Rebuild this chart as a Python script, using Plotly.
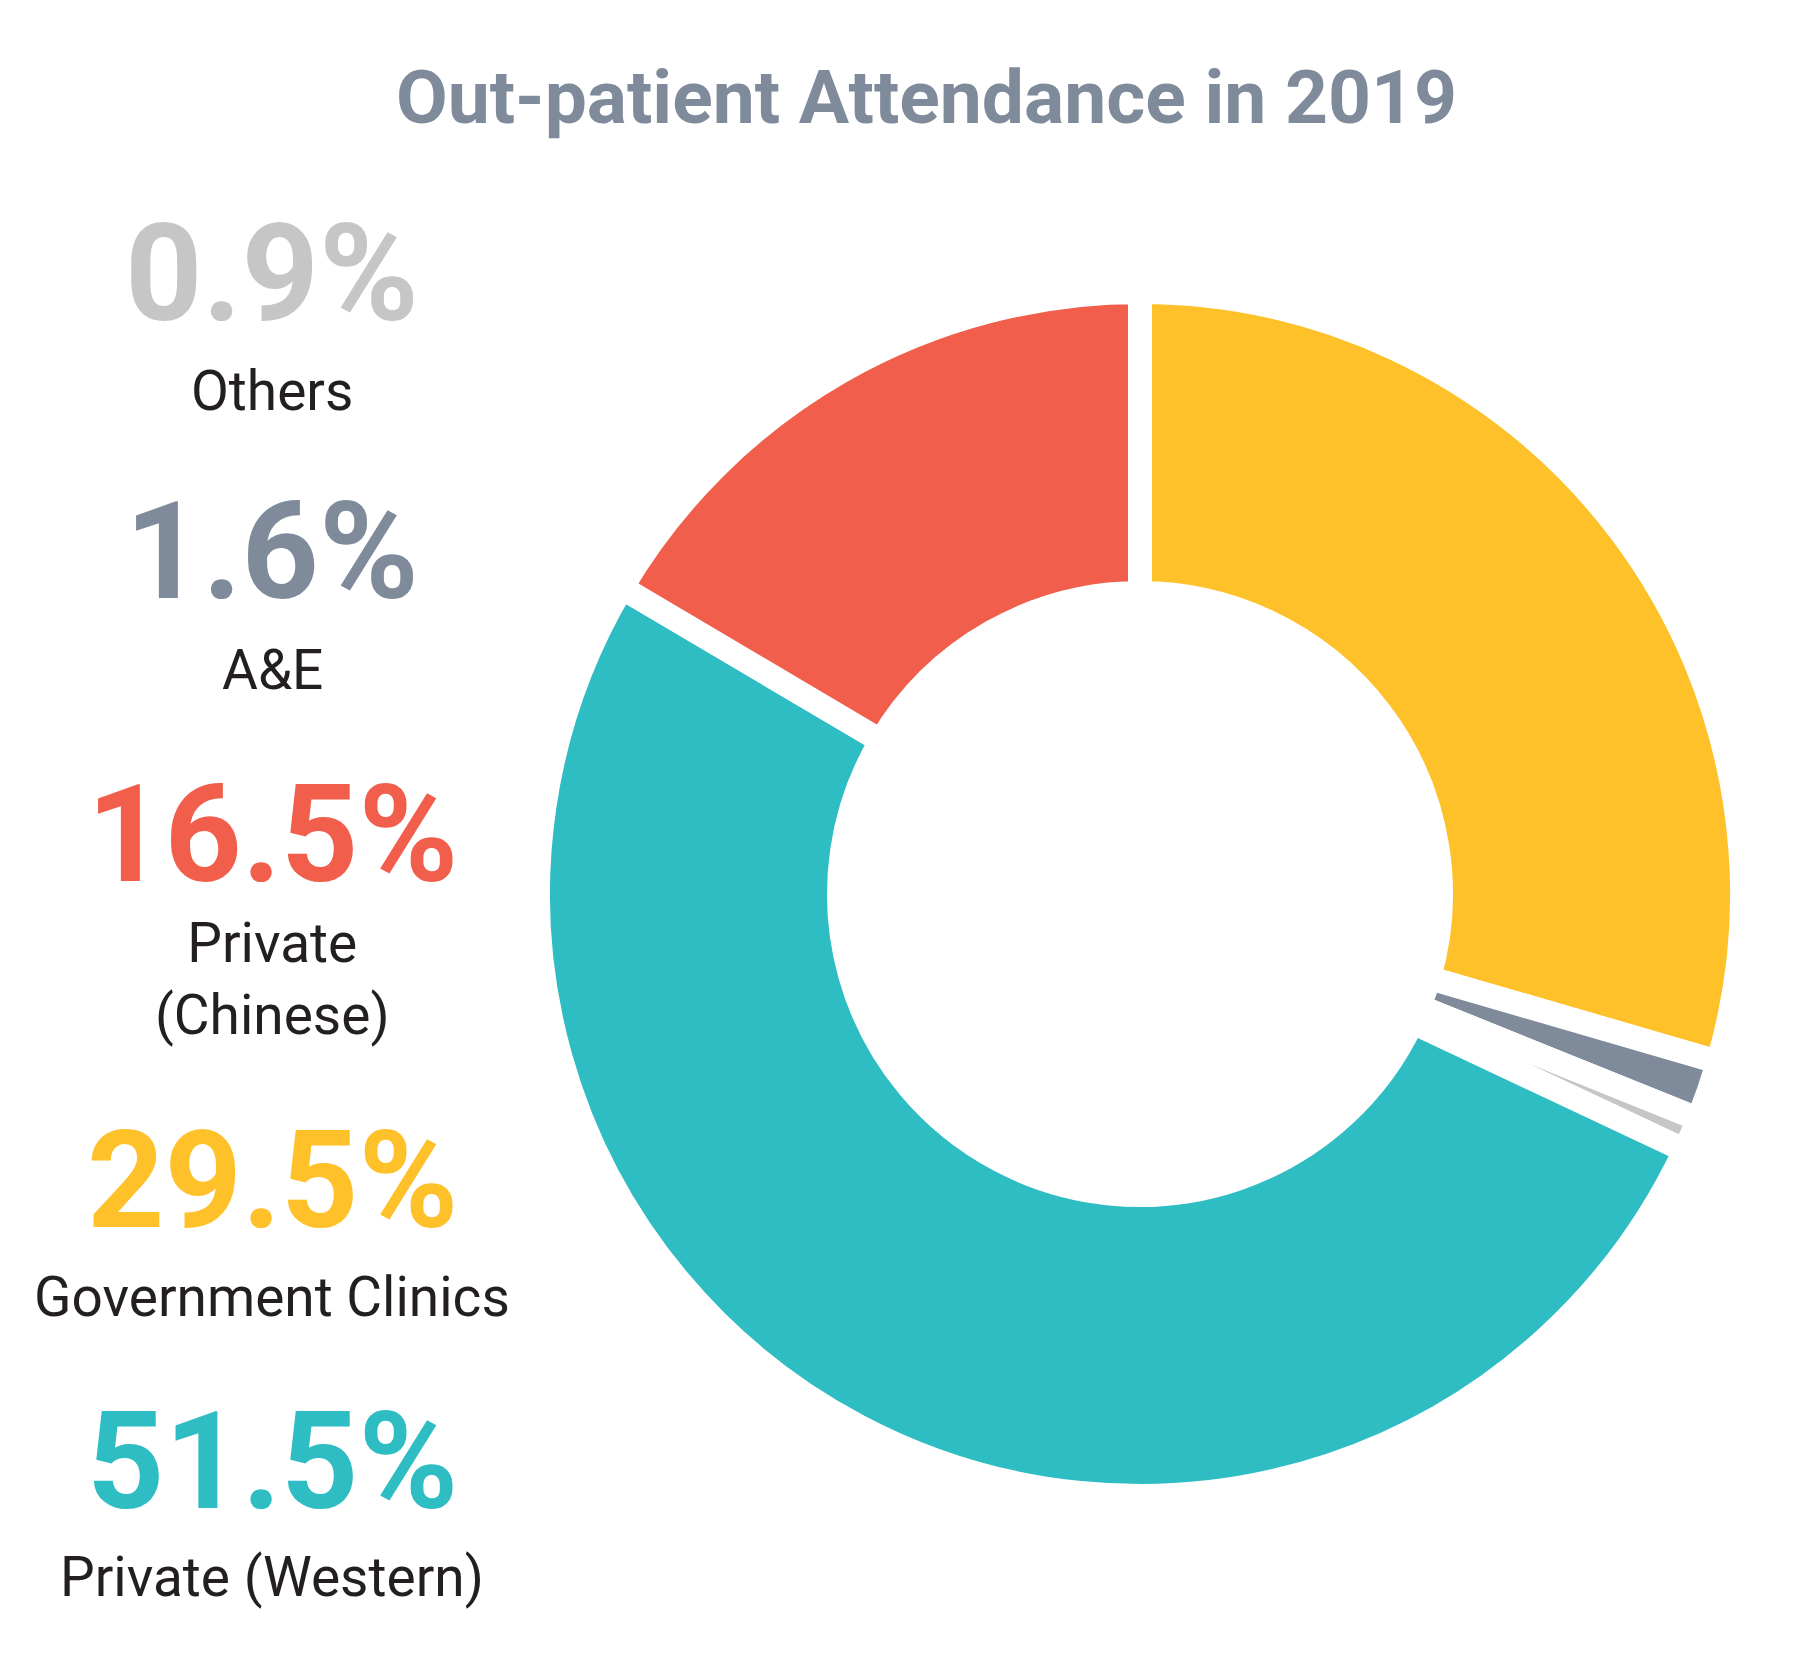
import plotly.graph_objects as go

# Data (clockwise from 12 o'clock)
categories = ["Government Clinics", "A&E", "Others", "Private (Western)", "Private (Chinese)"]
values = [29.5, 1.6, 0.9, 51.5, 16.5]
colors = ["#fec12a", "#7f8b9b", "#c7c6c6", "#2ebdc2", "#f15e4b"]

# Left-side label listing (top to bottom)
label_order = ["Others", "A&E", "Private (Chinese)", "Government Clinics", "Private (Western)"]
label_text = {
    "Others": "Others",
    "A&E": "A&E",
    "Private (Chinese)": "Private<br>(Chinese)",
    "Government Clinics": "Government Clinics",
    "Private (Western)": "Private (Western)",
}

W, H = 1800, 1656
cx, cy, r = 1132, 886, 602

fig = go.Figure()
fig.add_trace(go.Pie(
    labels=categories,
    values=values,
    marker=dict(colors=colors, line=dict(color="white", width=24)),
    hole=0.5,
    sort=False,
    direction="clockwise",
    rotation=0,
    textinfo="none",
    hoverinfo="label+percent",
    domain=dict(x=[(cx - r) / W, (cx + r) / W], y=[(H - cy - r) / H, (H - cy + r) / H]),
    showlegend=False,
))

def py(y):
    return 1 - y / H

FONT = "Roboto, DejaVu Sans, sans-serif"
annots = []
annots.append(dict(text="<b>Out-patient Attendance in 2019</b>", x=918 / W, y=py(89),
                   font=dict(size=75, color="#7f8b9b", family=FONT)))

# vertical positions (centers) for each block
pct_y = [266, 544, 827, 1173, 1454]
name_y = [383, 662, 971, 1289, 1569]
lx = 264
for i, cat in enumerate(label_order):
    idx = categories.index(cat)
    annots.append(dict(text=f"<b>{values[idx]}%</b>", x=lx / W, y=py(pct_y[i]),
                       font=dict(size=135, color=colors[idx], family=FONT)))
    annots.append(dict(text=label_text[cat], x=lx / W, y=py(name_y[i]),
                       font=dict(size=55, color="#231f20", family=FONT)))

for a in annots:
    a.update(xref="paper", yref="paper", xanchor="center", yanchor="middle", showarrow=False)

fig.update_layout(
    width=W, height=H,
    margin=dict(l=0, r=0, t=0, b=0),
    paper_bgcolor="white", plot_bgcolor="white",
    annotations=annots,
)

fig.write_html("out.html")
